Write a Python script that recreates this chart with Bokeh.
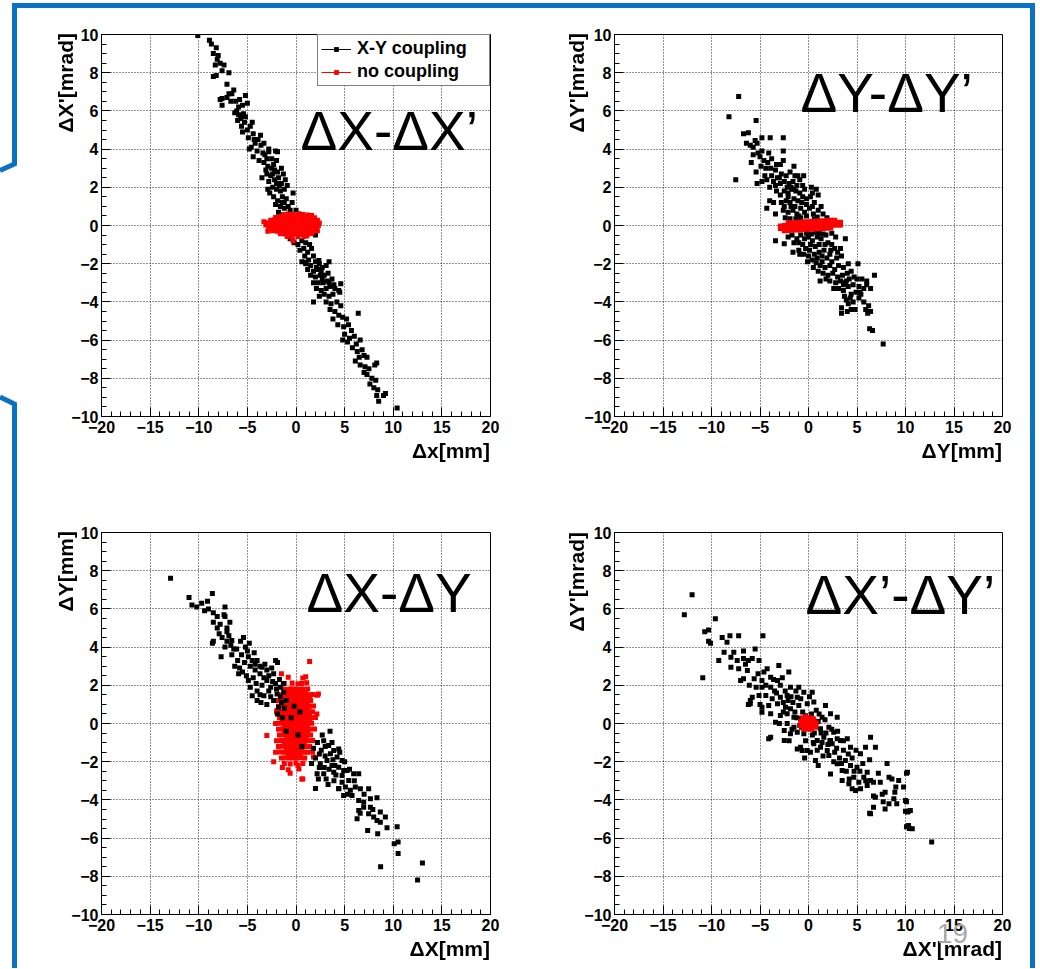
import math
from bokeh.plotting import figure
from bokeh.layouts import column, row
from bokeh.models import Range1d, FixedTicker, Label, Legend, LegendItem, Div
from bokeh.embed import file_html
from bokeh.resources import INLINE

# ---------------- data ----------------
X_TICKS = [-20, -15, -10, -5, 0, 5, 10, 15, 20]
Y_TICKS = [-10, -8, -6, -4, -2, 0, 2, 4, 6, 8, 10]
X_LIMITS = (-20, 20)
Y_LIMITS = (-10, 10)

SERIES_NAMES = ["X-Y coupling", "no coupling"]
PANEL_TITLES = ["\u0394X-\u0394X\u2019", "\u0394Y-\u0394Y\u2019", "\u0394X-\u0394Y", "\u0394X\u2019-\u0394Y\u2019"]
X_TITLES = ["\u0394x[mm]", "\u0394Y[mm]", "\u0394X[mm]", "\u0394X'[mrad]"]
Y_TITLES = ["\u0394X'[mrad]", "\u0394Y'[mrad]", "\u0394Y[mm]", "\u0394Y'[mrad]"]
SLIDE_NUMBER = "19"

# panel 1 : dX - dX'
P1_COUPLED = [
    (-10.1, 9.95), (-8.9, 9.7), (-8.7, 9.5), (-8.2, 9.3), (-8.5, 9.0), (-8.0, 8.9), (-8.1, 8.7), (-7.8, 8.5),
    (-8.3, 8.4), (-7.4, 8.4), (-7.6, 8.1), (-6.9, 8.0), (-8.5, 7.8), (-8.2, 7.85),
    (-7.1, 7.4), (-6.4, 7.1), (-6.9, 6.9), (-5.2, 6.8), (-7.8, 6.6), (-7.1, 6.7), (-7.6, 6.65), (-6.7, 6.5),
    (-6.2, 6.5), (-5.0, 6.4), (-7.6, 6.3), (-5.5, 6.3), (-5.9, 6.2), (-6.1, 6.0), (-5.9, 5.8), (-5.4, 5.85),
    (-5.2, 5.7), (-5.7, 5.6), (-6.0, 5.5), (-5.3, 5.4), (-5.6, 5.2), (-4.7, 5.2), (-5.0, 5.0), (-5.5, 4.9),
    (-4.4, 4.8), (-3.65, 4.73), (-4.9, 4.6), (-3.9, 4.5), (-4.2, 4.3), (-3.3, 4.3), (-4.6, 4.1), (-3.6, 4.2),
    (-4.8, 4.0), (-2.8, 4.0), (-4.0, 3.9), (-2.1, 3.9), (-2.8, 3.86), (-1.9, 3.86), (-3.4, 3.8), (-3.2, 3.7),
    (-4.4, 3.6), (-2.5, 3.5), (-3.8, 3.4), (-2.0, 3.4), (-6.6, 6.9), (-5.8, 6.6), (-4.5, 5.4), (-6.3, 5.9),
    (-3.3, 3.3), (-2.9, 3.1), (-1.5, 3.0), (-2.5, 3.0), (-3.1, 2.9), (-2.2, 2.9), (-1.9, 2.8), (-3.0, 2.7),
    (-1.3, 2.7), (-2.6, 2.6), (-1.8, 2.5), (-2.2, 2.4), (-1.1, 2.4), (-2.8, 2.3), (-1.5, 2.2), (-0.9, 2.1),
    (-2.4, 2.0), (-2.9, 1.9), (-2.0, 1.9), (-1.2, 1.9), (-1.6, 1.8), (-2.7, 1.7), (-0.3, 1.7), (-2.3, 1.5),
    (-1.4, 1.5), (-1.0, 1.4), (-1.9, 1.3), (-0.4, 1.2), (-2.1, 1.1), (-1.6, 1.0), (-0.8, 1.0), (-1.2, 0.9),
    (-0.6, 0.8), (0.0, 0.8), (-1.8, 0.7), (0.3, 0.6), (-0.4, 0.5), (-2.4, 2.7), (-1.7, 2.1), (-1.2, 1.2),
    (-4.3, 4.5), (-3.0, 3.5), (-2.3, 3.2), (-3.5, 2.5), (-2.0, 2.2), (-1.4, 1.2),
    (-0.6, -0.7), (-0.2, -0.9), (0.2, -1.0), (0.6, -0.8), (1.0, -0.9), (1.4, -1.0), (2.0, -0.5), (0.8, -1.2),
    (1.6, -1.2), (0.4, -1.3), (1.2, -1.4), (0.9, -1.6), (1.8, -1.6), (1.3, -1.8), (2.35, -1.83), (0.6, -1.9),
    (0.98, -1.92), (3.4, -1.9), (2.0, -1.9), (1.0, -2.0), (2.4, -2.0), (1.5, -2.1), (3.1, -2.1), (2.7, -2.2),
    (1.2, -2.3), (2.3, -2.3), (1.8, -2.4), (3.3, -2.5), (1.5, -2.6), (2.5, -2.6), (2.9, -2.6), (2.0, -2.7),
    (3.7, -2.8), (3.2, -2.9), (1.8, -3.0), (2.3, -3.0), (2.8, -3.0), (4.6, -3.05), (3.1, -3.3), (2.1, -3.3),
    (4.0, -3.3), (3.5, -3.2), (2.6, -3.4), (4.4, -3.4), (4.5, -3.5), (3.8, -3.6), (2.9, -3.6), (2.4, -3.7),
    (3.4, -3.7), (2.1, -2.2), (2.7, -2.8), (3.4, -3.0), (3.9, -3.1), (2.6, -2.4),
    (1.8, -4.0), (3.1, -4.0), (4.2, -4.0), (3.6, -4.1), (4.6, -4.2), (3.5, -4.4), (4.0, -4.5), (6.4, -4.6),
    (4.4, -4.7), (4.8, -4.8), (3.8, -4.9), (5.2, -4.9),
    (4.3, -5.2), (5.4, -5.2), (4.9, -5.3), (5.7, -5.5), (5.0, -5.7), (6.0, -5.8), (5.5, -5.9), (4.8, -6.0),
    (6.6, -6.0), (5.3, -6.1), (6.2, -6.2), (5.8, -6.4), (6.8, -6.5), (6.3, -6.6), (7.0, -6.8), (6.5, -6.9),
    (7.3, -6.9), (6.1, -7.1), (8.3, -7.2), (6.6, -7.3), (8.1, -7.3), (7.1, -7.4), (7.5, -7.5), (7.0, -7.7),
    (7.3, -7.8), (7.8, -8.0), (8.2, -8.1), (7.6, -8.3), (8.0, -8.5), (8.4, -8.6), (8.3, -8.9), (9.0, -8.9),
    (9.2, -8.8), (8.5, -9.2), (10.4, -9.55),
]
P1_UNCOUPLED = [
    (-1.3, 0.57), (-0.8, 0.6), (-0.3, 0.58), (0.2, 0.6), (0.7, 0.57), (1.2, 0.55), (1.6, 0.52),
    (-2.1, 0.42), (-1.6, 0.45), (-1.1, 0.44), (-0.6, 0.46), (-0.1, 0.44), (0.4, 0.45), (0.9, 0.43), (1.4, 0.44), (1.9, 0.4),
    (-2.6, 0.28), (-2.2, 0.3), (-1.8, 0.31), (-1.3, 0.29), (-0.9, 0.3), (-0.4, 0.31), (0.0, 0.29), (0.5, 0.3),
    (0.9, 0.31), (1.4, 0.29), (1.8, 0.3), (2.2, 0.27),
    (-2.9, 0.14), (-2.4, 0.16), (-2.0, 0.15), (-1.5, 0.14), (-1.1, 0.16), (-0.6, 0.15), (-0.2, 0.14), (0.3, 0.16),
    (0.7, 0.15), (1.2, 0.14), (1.6, 0.16), (2.0, 0.15), (2.4, 0.13),
    (-3.1, 0.02), (-2.6, -0.01), (-2.2, 0.0), (-1.7, 0.01), (-1.3, -0.01), (-0.8, 0.0), (-0.4, 0.01), (0.1, 0.0),
    (0.5, -0.01), (1.0, 0.0), (1.4, 0.01), (1.8, -0.01), (2.3, 0.0),
    (-2.8, -0.14), (-2.3, -0.16), (-1.9, -0.15), (-1.5, -0.14), (-1.0, -0.16), (-0.6, -0.15), (-0.1, -0.14),
    (0.3, -0.16), (0.8, -0.15), (1.2, -0.14), (1.6, -0.16), (2.1, -0.15),
    (-2.4, -0.28), (-1.9, -0.3), (-1.4, -0.31), (-1.0, -0.29), (-0.5, -0.3), (0.0, -0.31), (0.4, -0.29),
    (0.9, -0.3), (1.3, -0.31), (1.8, -0.29), (2.2, -0.27),
    (-1.6, -0.43), (-1.1, -0.45), (-0.7, -0.46), (-0.2, -0.44), (0.3, -0.45), (0.7, -0.46), (1.2, -0.44), (1.6, -0.42),
    (-0.9, -0.57), (-0.4, -0.6), (0.2, -0.58), (0.8, -0.57), (1.1, -0.55),
    (-0.3, -0.8), (-3.3, 0.2), (-2.9, -0.3),
]

# panel 2 : dY - dY'
P2_COUPLED = [
    (-7.2, 6.75), (-8.2, 5.7), (-5.4, 5.5), (-7.5, 2.4), (-3.4, -0.8), (7.7, -6.2), (6.6, -5.5), (6.3, -5.4),
    (-6.7, 4.8), (-6.2, 4.85), (-4.8, 4.6), (-3.95, 4.6), (-2.6, 4.6), (-6.4, 4.3), (-5.3, 4.3), (-6.0, 4.2), (-5.5, 4.45),
    (-2.6, 3.9), (-5.7, 4.1), (-5.2, 3.8), (-5.7, 3.7), (-5.9, 3.3), (-5.0, 3.6), (-4.6, 3.4), (-4.2, 3.3),
    (-3.8, 3.5), (-3.3, 3.2), (-4.9, 3.1), (-4.4, 3.0), (-3.9, 3.0), (-3.4, 2.9), (-2.9, 3.2), (-1.5, 3.1),
    (-4.8, 3.9), (-4.1, 3.8), (-5.4, 2.8),
    (-5.3, 2.2), (-4.8, 2.3), (-4.3, 2.4), (-3.8, 2.6), (-3.2, 2.5), (-2.8, 2.7), (-2.3, 2.6), (-1.9, 2.8),
    (-1.4, 2.6), (-0.5, 2.6), (-3.4, 2.1), (-2.9, 2.2), (-2.5, 2.3), (-2.0, 2.2), (-1.6, 2.3), (-1.2, 2.1),
    (-0.9, 2.4), (-4.0, 2.0),
    (-3.3, 1.8), (-2.9, 1.6), (-2.5, 1.8), (-2.1, 1.7), (-1.7, 1.9), (-1.3, 1.8), (-0.9, 1.7), (-0.4, 1.9),
    (0.3, 2.0), (0.8, 1.9), (1.0, 1.6), (-4.0, 1.3), (-3.6, 1.2), (-2.8, 1.2), (-2.3, 1.3), (-1.9, 1.2),
    (-1.5, 1.4), (-1.1, 1.3), (-0.7, 1.2), (-0.2, 1.4), (0.2, 1.5), (0.6, 1.2), (-2.1, 1.5), (-1.4, 1.0),
    (-1.0, 0.5), (-0.6, 1.5), (-1.8, 1.0), (-0.2, 1.1), (-2.5, 1.0), (-1.8, 2.0), (-0.6, 2.1), (-1.1, 2.6), (0.4, 1.7),
    (-2.2, 2.0), (-1.5, 1.9), (-0.2, 0.5), (0.4, 1.0), (-0.8, 0.4), (-1.9, 0.35), (0.9, 0.45), (1.3, 1.0),
    (-3.0, 2.5), (-3.6, 2.3), (-2.6, 3.4), (-4.5, 2.6),
    (-3.4, 0.6), (-2.6, 0.8), (-2.1, 0.7), (-1.6, 0.8), (-1.2, 0.6), (-0.8, 0.9), (-0.4, 0.7), (0.1, 0.9),
    (0.5, 0.6), (1.0, 0.8), (1.5, 0.6), (1.9, 0.4), (-2.4, 0.4), (-1.3, 0.35), (0.6, 0.35), (-4.3, 0.9),
    (-2.1, -0.6), (-1.7, -0.5), (-1.2, -0.7), (-0.8, -0.5), (-0.4, -0.7), (0.0, -0.6), (0.4, -0.8), (0.9, -0.6),
    (1.3, -0.7), (1.8, -0.5), (2.4, -0.4), (2.8, -0.6), (3.8, -0.7), (-1.5, -0.9), (-0.6, -1.0), (0.2, -1.0),
    (1.1, -1.0), (2.0, -0.9), (-2.5, -0.95), (0.7, -1.1),
    (0.3, -0.45), (-0.2, -0.4), (1.5, -0.45), (0.0, -1.6), (1.4, -1.6), (-1.0, -0.9), (1.7, -1.0), (2.4, -1.0),
    (0.8, -0.35), (1.1, -0.4), (-0.9, -1.5), (-0.1, -1.9), (0.5, -2.2), (1.0, -2.4), (2.3, -1.3), (3.0, -1.4),
    (-1.6, -1.4), (-1.0, -1.3), (-0.5, -1.5), (0.1, -1.3), (0.6, -1.5), (1.1, -1.4), (1.6, -1.3), (2.2, -1.5),
    (2.7, -1.2), (3.3, -1.2), (0.4, -1.8), (0.9, -1.7), (1.4, -1.9), (1.9, -1.7), (2.4, -1.9), (2.9, -1.7),
    (3.4, -1.6), (0.8, -1.95), (-0.3, -1.2),
    (1.2, -2.1), (1.7, -2.2), (2.2, -2.1), (2.7, -2.3), (3.1, -2.1), (3.6, -2.2), (4.1, -2.0), (1.5, -2.5),
    (2.0, -2.6), (2.5, -2.5), (3.0, -2.7), (3.5, -2.6), (4.0, -2.5), (4.4, -2.4), (5.1, -2.0), (1.2, -2.9),
    (2.2, -2.9), (2.8, -3.0), (3.3, -2.9), (3.8, -3.0), (4.2, -2.8), (5.0, -2.8), (5.5, -2.8), (6.0, -2.9),
    (6.8, -2.6), (1.8, -2.8), (2.6, -3.3), (4.7, -2.7), (3.9, -2.9),
    (3.1, -3.3), (3.6, -3.4), (4.1, -3.2), (4.6, -3.1), (5.2, -3.2), (5.7, -3.3), (6.4, -3.3), (4.4, -3.6),
    (4.9, -3.5), (5.4, -3.6), (3.9, -3.9), (4.3, -3.8), (5.2, -3.8), (6.0, -3.1), (3.6, -3.1),
    (5.3, -3.5), (4.8, -4.4), (3.7, -3.7),
    (4.1, -4.1), (4.6, -4.0), (5.7, -4.0), (6.2, -4.2), (6.4, -4.5), (4.0, -4.5), (3.4, -4.6), (3.4, -4.3),
    (4.4, -4.4), (6.1, -4.6), (5.9, -4.4),
]
P2_UNCOUPLED = [
    (-2.1, 0.14), (-1.7, 0.15), (-1.3, 0.16), (-0.9, 0.17), (-0.5, 0.19), (-0.1, 0.2), (0.3, 0.21), (0.7, 0.22),
    (1.1, 0.23), (1.5, 0.25), (1.9, 0.26), (2.3, 0.27), (2.7, 0.28),
    (-2.9, -0.02), (-2.5, 0.0), (-2.1, 0.01), (-1.7, 0.02), (-1.3, 0.03), (-0.9, 0.04), (-0.5, 0.06), (-0.1, 0.07),
    (0.3, 0.08), (0.7, 0.09), (1.1, 0.1), (1.5, 0.12), (1.9, 0.13), (2.3, 0.14), (2.7, 0.15), (3.1, 0.16), (3.3, 0.17),
    (-2.9, -0.16), (-2.5, -0.15), (-2.1, -0.13), (-1.7, -0.12), (-1.3, -0.11), (-0.9, -0.1), (-0.5, -0.09),
    (-0.1, -0.07), (0.3, -0.06), (0.7, -0.05), (1.1, -0.04), (1.5, -0.03), (1.9, -0.01), (2.3, 0.0), (2.7, 0.01),
    (3.1, 0.02), (3.3, 0.03),
    (-2.5, -0.28), (-2.1, -0.26), (-1.7, -0.25), (-1.3, -0.24), (-0.9, -0.23), (-0.5, -0.22), (-0.1, -0.2),
    (0.3, -0.19), (0.7, -0.18), (1.1, -0.17), (1.5, -0.16), (1.9, -0.14), (2.3, -0.13),
]

# panel 3 : dX - dY
P3_COUPLED = [
    (-12.9, 7.6), (-11.0, 6.6), (-10.7, 6.2), (-10.2, 6.1), (-9.7, 6.3), (-9.4, 5.9), (-9.1, 6.4), (-8.6, 6.8),
    (-9.0, 6.0), (-8.5, 5.8), (-8.1, 5.6), (-8.5, 5.3), (-8.1, 5.0), (-7.8, 5.2), (-7.4, 5.7), (-7.3, 6.1),
    (-7.3, 5.6), (-6.8, 5.3), (-7.1, 5.0), (-7.1, 4.8), (-7.9, 4.7), (-6.9, 4.6), (-7.6, 4.5), (-5.4, 4.5),
    (-6.6, 4.35), (-7.1, 4.3), (-8.5, 4.3), (-8.6, 4.2), (-6.7, 4.1), (-7.3, 4.0), (-6.1, 3.9), (-7.7, 3.5),
    (-6.3, 3.0), (-6.0, 3.3), (-5.8, 2.9), (-5.6, 3.6), (-5.3, 3.2), (-5.0, 3.8), (-4.9, 3.5), (-4.7, 3.0),
    (-4.5, 3.3), (-5.2, 4.0), (-4.8, 4.2), (-5.5, 2.7), (-4.9, 2.25), (-4.4, 2.4), (-4.7, 1.9), (-4.5, 1.45),
    (-4.2, 2.8), (-6.6, 3.6), (-5.9, 2.6), (-4.3, 3.7),
    (-5.1, 2.5), (-4.1, 2.1), (-3.6, 1.1), (-2.0, 1.8), (-6.4, 3.9), (-5.7, 4.3), (-4.2, 3.1),
    (-4.0, 3.3), (-3.7, 3.0), (-3.5, 2.95), (-3.7, 2.6), (-3.3, 2.4), (-3.0, 2.8), (-2.8, 2.5), (-2.5, 2.9),
    (-2.3, 2.6), (-4.0, 1.7), (-3.5, 2.0), (-3.0, 2.25), (-2.6, 1.9), (-2.1, 2.1), (-3.3, 1.45), (-3.0, 1.0),
    (-2.6, 1.4), (-2.3, 1.2), (-4.0, 1.2), (-3.7, 1.5), (-2.1, 3.3), (-1.9, 3.2), (-2.8, 1.7), (-3.2, 3.1), (-2.4, 2.2),
    (-1.6, 1.9), (-1.95, 1.55), (-1.6, 1.4), (-1.26, 1.64), (-1.8, 0.85), (-1.5, 1.1), (-1.2, 0.8), (-1.9, 0.5),
    (-1.4, 0.3), (-1.0, 1.2), (-1.7, 2.3), (-1.3, 2.1),
    (-0.5, 0.3), (0.2, -0.6), (-0.2, 0.9), (0.6, -1.2), (-1.0, -0.4), (0.4, 0.6),
    (3.5, -0.4), (2.85, -0.9), (3.36, -1.15), (3.88, -1.41), (4.39, -1.33), (3.54, -1.59), (4.22, -1.76),
    (4.74, -1.94), (3.19, -1.94), (2.5, -2.11), (3.7, -2.2), (4.39, -2.29), (4.9, -2.46), (3.88, -2.55),
    (2.85, -2.63), (2.17, -2.63), (4.74, -2.72), (5.25, -2.46), (5.93, -2.63), (6.45, -2.63), (5.42, -2.98),
    (4.74, -3.07), (4.39, -3.42), (5.08, -3.33), (5.59, -3.5), (6.1, -3.33), (6.62, -3.42), (7.47, -3.42),
    (4.9, -3.77), (5.76, -3.77), (6.45, -4.03), (6.96, -4.12), (7.65, -3.94), (8.33, -3.89), (6.96, -4.38),
    (7.65, -4.38), (6.45, -4.55), (7.47, -4.73), (7.99, -4.9), (8.67, -4.64), (9.19, -4.9), (8.33, -5.08),
    (6.28, -4.99), (7.37, -5.6), (8.4, -5.77), (8.67, -5.17), (9.36, -5.46),
    (10.4, -5.4), (10.5, -6.2), (10.5, -6.8), (8.7, -7.5), (13.0, -7.3), (12.5, -8.2), (10.1, -6.3), (2.0, -3.4),
    (2.2, -1.0), (2.6, -1.4), (2.0, -1.8), (3.0, -1.7), (2.4, -2.3), (3.4, -2.4), (1.8, -1.3), (3.8, -1.9),
    (4.1, -2.7), (3.1, -2.9), (2.7, -0.6), (1.6, -2.1), (4.5, -1.5), (3.3, -3.2), (3.9, -3.0), (4.4, -3.4), (5.0, -2.0),
    (3.0, -1.2), (2.4, -1.6), (3.7, -1.0), (4.0, -2.2), (2.9, -2.3), (5.5, -2.4), (6.0, -3.0), (5.3, -3.7),
    (7.0, -3.7), (7.9, -4.5), (6.6, -4.7), (2.3, -2.9),
]
P3_UNCOUPLED = [
    (1.4, 3.24), (-1.5, 2.6), (2.3, 1.55), (2.15, 0.5), (-2.1, 1.2), (-1.95, 0.68), (-3.0, -0.63), (-2.3, -2.0),
    (0.6, -2.9), (1.8, -1.76),
    (-0.8, 2.42), (0.7, 2.38), (1.0, 2.45),
    (-1.2, 2.1), (-0.4, 2.12), (0.2, 2.08), (0.6, 2.1), (1.1, 2.13),
    (-1.3, 1.8), (-0.9, 1.78), (-0.5, 1.82), (-0.1, 1.8), (0.3, 1.79), (0.7, 1.81), (1.2, 1.8),
    (-1.0, 1.65), (-0.6, 1.66), (-0.2, 1.64), (0.2, 1.65), (0.6, 1.66), (1.0, 1.64),
    (-1.6, 1.5), (-1.2, 1.52), (-0.8, 1.49), (-0.4, 1.5), (0.0, 1.51), (0.4, 1.5), (0.8, 1.49), (1.2, 1.5), (1.7, 1.52), (2.2, 1.48),
    (-1.4, 1.35), (-1.0, 1.36), (-0.6, 1.34), (-0.2, 1.35), (0.2, 1.36), (0.6, 1.35), (1.0, 1.34), (1.4, 1.35),
    (-1.7, 1.2), (-1.3, 1.21), (-0.9, 1.19), (-0.5, 1.2), (-0.1, 1.2), (0.3, 1.21), (0.7, 1.2), (1.1, 1.19), (1.5, 1.2),
    (-1.2, 1.05), (-0.8, 1.06), (-0.4, 1.04), (0.0, 1.05), (0.4, 1.06), (0.8, 1.05), (1.2, 1.04),
    (-1.8, 0.9), (-1.4, 0.91), (-1.0, 0.89), (-0.6, 0.9), (-0.2, 0.9), (0.2, 0.91), (0.6, 0.9), (1.0, 0.89), (1.4, 0.9), (1.8, 0.91),
    (-1.2, 0.75), (-0.8, 0.76), (-0.4, 0.74), (0.0, 0.75), (0.4, 0.76), (0.8, 0.75), (1.2, 0.74),
    (-2.0, 0.6), (-1.5, 0.61), (-1.1, 0.59), (-0.7, 0.6), (-0.3, 0.6), (0.1, 0.61), (0.5, 0.6), (0.9, 0.59), (1.3, 0.6), (1.7, 0.61),
    (-1.4, 0.45), (-1.0, 0.46), (-0.6, 0.44), (-0.2, 0.45), (0.2, 0.46), (0.6, 0.45), (1.0, 0.44), (1.4, 0.45),
    (-1.7, 0.3), (-1.3, 0.31), (-0.9, 0.29), (-0.5, 0.3), (-0.1, 0.3), (0.3, 0.31), (0.7, 0.3), (1.1, 0.29), (1.5, 0.3), (2.0, 0.31),
    (-1.4, 0.15), (-1.0, 0.16), (-0.6, 0.14), (-0.2, 0.15), (0.2, 0.16), (0.6, 0.15), (1.0, 0.14), (1.4, 0.15),
    (-2.1, 0.0), (-1.6, 0.01), (-1.2, -0.01), (-0.8, 0.0), (-0.4, 0.0), (0.0, 0.01), (0.4, 0.0), (0.8, -0.01), (1.2, 0.0), (1.6, 0.01),
    (-1.2, -0.15), (-0.8, -0.14), (-0.4, -0.16), (0.0, -0.15), (0.4, -0.14), (0.8, -0.15), (1.2, -0.16),
    (-1.8, -0.3), (-1.4, -0.29), (-1.0, -0.31), (-0.6, -0.3), (-0.2, -0.3), (0.2, -0.29), (0.6, -0.3), (1.0, -0.31), (1.4, -0.3), (1.9, -0.29),
    (-1.2, -0.45), (-0.8, -0.44), (-0.4, -0.46), (0.0, -0.45), (0.4, -0.44), (0.8, -0.45), (1.2, -0.46),
    (-1.7, -0.6), (-1.3, -0.59), (-0.9, -0.61), (-0.5, -0.6), (-0.1, -0.6), (0.3, -0.59), (0.7, -0.6), (1.1, -0.61), (1.5, -0.6),
    (-1.0, -0.75), (-0.6, -0.74), (-0.2, -0.76), (0.2, -0.75), (0.6, -0.74), (1.0, -0.75),
    (-2.0, -0.9), (-1.5, -0.89), (-1.1, -0.91), (-0.7, -0.9), (-0.3, -0.9), (0.1, -0.89), (0.5, -0.9), (0.9, -0.91), (1.3, -0.9), (1.7, -0.89),
    (-1.2, -1.05), (-0.8, -1.04), (-0.4, -1.06), (0.0, -1.05), (0.4, -1.04), (0.8, -1.05),
    (-1.8, -1.2), (-1.4, -1.19), (-1.0, -1.21), (-0.6, -1.2), (-0.2, -1.2), (0.2, -1.19), (0.6, -1.2), (1.0, -1.21), (1.4, -1.2),
    (-1.0, -1.35), (-0.6, -1.34), (-0.2, -1.36), (0.2, -1.35), (0.6, -1.34),
    (-2.1, -1.5), (-1.6, -1.49), (-1.2, -1.51), (-0.8, -1.5), (-0.4, -1.5), (0.0, -1.49), (0.4, -1.5), (0.8, -1.51), (1.2, -1.5), (1.7, -1.49),
    (-0.8, -1.65), (-0.4, -1.64), (0.0, -1.66), (0.4, -1.65),
    (-1.5, -1.8), (-1.1, -1.79), (-0.7, -1.81), (-0.3, -1.8), (0.1, -1.8), (0.5, -1.79), (0.9, -1.8),
    (-1.2, -2.1), (-0.6, -2.12), (0.0, -2.08), (0.2, -2.2), (0.7, -2.1),
    (-1.4, -2.3), (-0.8, -2.42), (0.3, -2.38), (-0.6, -2.6), (0.7, -2.9),
]

# panel 4 : dX' - dY'
P4_COUPLED = [
    (-12.0, 6.74), (-12.8, 5.7), (-9.6, 5.48), (-10.9, 2.4), (-4.7, 4.6), (-7.2, 4.6), (-8.1, 4.6), (-8.9, 4.5),
    (-10.7, 4.8), (-10.3, 4.9), (-10.3, 4.3), (-10.1, 4.2), (12.7, -6.2), (10.1, -5.4), (10.4, -5.5), (10.0, -4.6),
    (10.3, -4.6), (10.1, -4.1), (10.1, -2.6), (8.1, -2.1), (6.3, -4.7), (6.7, -3.8), (7.6, -3.7), (-4.1, -0.8),
    (-6.2, 1.0), (-6.0, 1.2),
    (-8.4, 4.26), (-8.7, 3.73), (-7.7, 3.73), (-8.0, 3.47), (-6.7, 3.8), (-5.5, 3.9), (-9.25, 3.3), (-7.35, 3.3),
    (-6.7, 3.4), (-6.2, 3.3), (-5.8, 3.4), (-5.1, 3.3), (-8.0, 2.95), (-7.2, 2.86), (-6.3, 2.77), (-4.26, 2.86),
    (-3.06, 3.04), (-2.03, 2.7),
    (-7.0, 2.25), (-6.7, 2.34), (-5.6, 2.34), (-4.8, 2.25), (-3.9, 2.42), (-3.2, 2.25), (-4.8, 1.9), (-3.9, 1.9),
    (-2.9, 2.0), (-1.86, 1.9), (-1.0, 1.9),
    (-5.8, 1.38), (-5.1, 1.47), (-4.4, 1.47), (-3.74, 1.29), (-2.9, 1.38), (-2.2, 1.47), (-1.16, 1.38), (-0.48, 1.64), (0.38, 1.64),
    (-6.0, 1.03), (-4.8, 0.85), (-4.1, 0.94), (-3.2, 1.03), (-2.37, 0.85), (-1.86, 0.77), (-1.0, 0.94), (-0.13, 1.03),
    (0.55, 1.12), (1.75, 0.94),
    (-4.8, 0.59), (-3.9, 0.51), (-2.9, 0.42), (-2.2, 0.51), (-1.5, 0.33), (-0.82, 0.25), (1.4, 0.33), (2.27, 0.51), (2.96, 0.33),
    (-3.4, 0.07), (-2.2, 0.0), (-1.5, -0.2), (-2.5, -0.37), (-1.86, -0.54), (-1.16, -0.46), (-0.48, -0.54),
    (1.24, -0.28), (2.1, -0.2), (2.6, -0.46),
    (-0.82, -1.24), (-0.13, -1.41), (0.9, -0.89), (1.58, -0.72), (2.27, -0.89), (2.96, -0.8),
    (-3.9, -0.72), (-2.5, -0.89), (-1.16, -1.33), (-0.65, -1.41), (0.55, -1.06), (1.24, -1.24), (1.93, -1.41),
    (2.44, -1.06), (3.3, -0.89), (4.0, -0.8), (4.33, -1.24),
    (0.72, -1.94), (2.1, -1.68), (2.27, -2.64), (2.96, -2.11), (3.47, -2.46), (3.8, -1.94), (4.33, -2.2), (5.0, -2.29),
    (5.36, -1.59), (5.88, -1.24), (6.9, -1.24), (6.4, -0.72),
    (3.47, -2.98), (4.16, -3.16), (4.67, -2.81), (5.19, -3.07), (5.7, -2.81), (6.05, -2.55), (5.36, -3.42),
    (4.85, -3.51), (6.05, -3.25), (6.4, -2.98), (4.5, -3.42),
    (6.7, -3.07), (7.4, -3.07), (8.3, -2.81), (7.9, -3.6), (8.6, -2.9), (9.3, -2.98), (9.0, -3.33), (9.8, -3.33), (10.2, -2.55),
    (6.9, -3.86), (6.7, -4.38), (6.4, -4.73), (7.9, -4.47), (8.3, -4.2), (8.8, -3.94), (9.1, -4.2), (10.0, -4.03),
    (10.2, -4.64), (10.5, -4.55), (10.3, -5.34), (10.7, -5.51),
    (-2.6, 1.1), (-1.6, 1.1), (-0.6, 0.6), (0.3, 0.5), (1.0, 0.1), (1.8, -0.5), (0.6, -0.5), (-0.9, -0.1),
    (0.5, -1.0), (1.5, -1.7), (2.7, -1.5), (3.2, -1.8), (3.9, -2.5), (4.5, -1.8), (2.6, -2.0), (-3.5, 1.7),
    (-4.4, 2.0), (-5.2, 2.6), (-6.5, 3.1), (-5.0, 1.0), (-2.4, 1.7), (-1.4, 0.6), (0.9, -1.4), (2.2, -0.9),
    (3.6, -1.4), (5.3, -2.5), (4.2, -2.9), (1.1, 0.5), (-0.3, -0.9), (-1.7, -0.3),
    (-3.6, 2.3), (-3.3, 1.6), (-2.7, 2.4), (-2.6, 0.6), (-2.1, 1.2), (-1.8, 1.4), (-1.3, 1.7), (-1.2, 0.3),
    (-0.8, 1.3), (-0.7, -0.2), (-0.3, 0.4), (0.1, 1.4), (0.4, -0.6), (0.8, 0.7), (1.3, -0.5), (1.4, -1.0),
    (1.7, 0.2), (2.0, -1.1), (2.4, -0.3), (2.9, -1.3), (3.0, -0.4), (3.4, -2.1), (3.6, -0.9), (4.1, -1.6),
    (4.7, -2.5), (4.9, -1.4), (5.6, -2.1), (5.9, -3.0), (6.3, -1.9), (7.2, -2.6), (7.7, -4.1), (8.9, -3.6),
    (-5.4, 1.9), (-6.1, 2.0), (-4.6, 2.7), (-3.0, 0.0), (-2.0, -0.9), (-0.4, -1.8), (0.2, -1.5), (1.0, -2.2),
]
P4_UNCOUPLED = [
    (-0.6, 0.3), (-0.2, 0.32), (0.2, 0.3), (0.5, 0.25), (-0.8, 0.1), (-0.4, 0.15), (0.0, 0.15), (0.4, 0.12),
    (0.8, 0.02), (-0.8, -0.1), (-0.4, -0.05), (0.0, -0.05), (0.4, -0.1), (0.75, -0.2), (-0.5, -0.28),
    (-0.1, -0.3), (0.3, -0.3), (-0.2, 0.0), (0.2, 0.02), (-0.6, -0.15), (0.6, 0.15), (-0.3, 0.35), (0.1, -0.2),
]

# ---------------- style ----------------
FONT = "Liberation Sans"
BLUE = "#0A72C4"
GREY_NUM = "#A8A8A8"
FRAME_H = 382
X_MINOR = list(range(-20, 21))
Y_MINOR = [v / 2 for v in range(-20, 21)]
MS_BLACK = 5
MS_RED = 5


def fmt(v):
    return ("\u2212" + str(abs(v))) if v < 0 else str(v)


def make_panel(page_left, page_top, frame_left, frame_top, frame_w, fig_w, fig_h):
    bl = frame_left - page_left
    bt = frame_top - page_top
    p = figure(x_range=Range1d(*X_LIMITS), y_range=Range1d(*Y_LIMITS),
               frame_width=frame_w, frame_height=FRAME_H,
               min_border_left=bl, min_border_top=bt,
               min_border_right=fig_w - bl - frame_w, min_border_bottom=fig_h - bt - FRAME_H,
               output_backend="svg", toolbar_location=None,
               background_fill_color="white", border_fill_color="white",
               outline_line_color="black", outline_line_width=1)
    xt = FixedTicker(ticks=X_TICKS, minor_ticks=X_MINOR)
    yt = FixedTicker(ticks=Y_TICKS, minor_ticks=Y_MINOR)
    p.xaxis.ticker = xt
    p.yaxis.ticker = yt
    p.xgrid.ticker = xt
    p.ygrid.ticker = yt
    for ax, ticks in ((p.xaxis[0], X_TICKS), (p.yaxis[0], Y_TICKS)):
        ax.major_label_overrides = {t: fmt(t) for t in ticks}
        ax.axis_line_color = "black"
        ax.major_tick_line_color = "black"
        ax.minor_tick_line_color = "black"
        ax.major_tick_in = 9
        ax.major_tick_out = 0
        ax.minor_tick_in = 5
        ax.minor_tick_out = 0
        ax.major_label_text_font = FONT
        ax.major_label_text_font_style = "bold"
        ax.major_label_text_font_size = "16px"
        ax.major_label_text_color = "black"
    p.xaxis.major_label_standoff = 4
    p.yaxis.major_label_standoff = 3
    p.grid.grid_line_color = "#222222"
    p.grid.grid_line_dash = "1 2"
    p.grid.grid_line_width = 1

    def dx(px):
        return X_LIMITS[0] + (px - frame_left) * (X_LIMITS[1] - X_LIMITS[0]) / frame_w

    def dy(py):
        return Y_LIMITS[1] - (py - frame_top) * (Y_LIMITS[1] - Y_LIMITS[0]) / FRAME_H

    return p, dx, dy


def big_title(p, dx, dy, text, left, base):
    p.add_layout(Label(x=dx(left - 2), y=dy(base - 23), text=text,
                       text_font=FONT, text_font_style="normal", text_font_size="55px",
                       text_align="left", text_baseline="alphabetic", text_color="black"))


def xs(pts):
    return [a for a, b in pts]


def ys(pts):
    return [b for a, b in pts]


# ---------------- panels (page origin at 0,0) ----------------
p1, dx1, dy1 = make_panel(0, 0, 101, 34, 389, 520, 480)
p2, dx2, dy2 = make_panel(520, 0, 614, 34, 388, 518, 480)
p3, dx3, dy3 = make_panel(0, 480, 101, 532, 389, 520, 488)
p4, dx4, dy4 = make_panel(520, 480, 614, 532, 388, 518, 488)

# panel 1: black below red
r1b = p1.scatter(xs(P1_COUPLED), ys(P1_COUPLED), marker="square", size=MS_BLACK, fill_color="black", line_color=None)
r1r = p1.scatter(xs(P1_UNCOUPLED), ys(P1_UNCOUPLED), marker="square", size=MS_RED, fill_color="red", line_color=None)
l1b = p1.line(x=[math.nan], y=[math.nan], line_color="black", line_width=1)
l1r = p1.line(x=[math.nan], y=[math.nan], line_color="red", line_width=1)
legend = Legend(items=[LegendItem(label=SERIES_NAMES[0], renderers=[l1b, r1b]),
                       LegendItem(label=SERIES_NAMES[1], renderers=[l1r, r1r])],
                location="top_right", margin=0, padding=3, spacing=2,
                border_line_color="black", border_line_width=1,
                background_fill_color="white", background_fill_alpha=1.0,
                label_text_font=FONT, label_text_font_style="bold", label_text_font_size="18px",
                label_text_color="black",
                glyph_width=30, glyph_height=12, label_standoff=6, label_width=129, label_height=20)
p1.add_layout(legend)

p2.scatter(xs(P2_COUPLED), ys(P2_COUPLED), marker="square", size=MS_BLACK, fill_color="black", line_color=None)
p2.scatter(xs(P2_UNCOUPLED), ys(P2_UNCOUPLED), marker="square", size=MS_RED, fill_color="red", line_color=None)

p3.scatter(xs(P3_UNCOUPLED), ys(P3_UNCOUPLED), marker="square", size=MS_RED, fill_color="red", line_color=None)
p3.scatter(xs(P3_COUPLED), ys(P3_COUPLED), marker="square", size=MS_BLACK, fill_color="black", line_color=None)

p4.scatter(xs(P4_COUPLED), ys(P4_COUPLED), marker="square", size=MS_BLACK, fill_color="black", line_color=None)
p4.scatter(xs(P4_UNCOUPLED), ys(P4_UNCOUPLED), marker="square", size=MS_RED, fill_color="red", line_color=None)

big_title(p1, dx1, dy1, PANEL_TITLES[0], 302, 153)
big_title(p2, dx2, dy2, PANEL_TITLES[1], 802, 115)
big_title(p3, dx3, dy3, PANEL_TITLES[2], 308, 615)
big_title(p4, dx4, dy4, PANEL_TITLES[3], 807, 617)

# ---------------- overlay: slide frame, axis titles (ROOT style: at the axis ends), slide number ----------------
TXT = f'font-family="{FONT}, Arial, sans-serif" font-weight="bold" font-size="21" fill="black"'
x_title_spots = [(490, 458), (1002, 458), (490, 956), (1002, 956)]   # right end, baseline
y_title_spots = [(72.5, 33), (584, 33), (72.5, 531), (584, 532)]      # baseline x, top end
parts = [
    '<svg xmlns="http://www.w3.org/2000/svg" width="1038" height="968" style="display:block">',
    f'<polyline points="0,170.5 14.5,164 14.5,5.5 1032.5,5.5 1032.5,968" fill="none" stroke="{BLUE}" '
    'stroke-width="5" stroke-linejoin="miter"/>',
    f'<polyline points="0,397 14.5,404 14.5,968" fill="none" stroke="{BLUE}" stroke-width="5" '
    'stroke-linejoin="miter"/>',
]
for (tx, ty), title in zip(x_title_spots, X_TITLES):
    parts.append(f'<text x="{tx}" y="{ty}" text-anchor="end" {TXT}>{title}</text>')
for (tx, ty), title in zip(y_title_spots, Y_TITLES):
    parts.append(f'<text x="{tx}" y="{ty}" text-anchor="end" transform="rotate(-90 {tx} {ty})" {TXT}>{title}</text>')
parts.append(f'<text x="937" y="943" font-family="{FONT}, Arial, sans-serif" font-size="28" '
             f'fill="{GREY_NUM}">{SLIDE_NUMBER}</text>')
parts.append('</svg>')

overlay = Div(text="".join(parts), width=1038, height=968, margin=(0, 0, 0, 0),
              styles={"position": "fixed", "left": "0px", "top": "0px",
                      "pointer-events": "none", "z-index": "10"})

layout = column(row(p1, p2), row(p3, p4), overlay)
open("out.html", "w").write(file_html(layout, INLINE))
